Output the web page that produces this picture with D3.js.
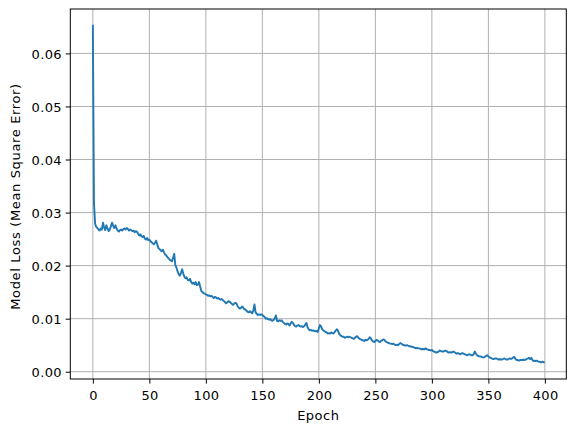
<!DOCTYPE html>
<html>
<head>
<meta charset="utf-8">
<script src="https://cdn.jsdelivr.net/npm/d3@7"></script>
<style>
  html, body { margin: 0; padding: 0; background: #fff; }
  svg { display: block; }
  text { font-family: "DejaVu Sans", sans-serif; }
</style>
</head>
<body>
<svg id="chart" width="576" height="432"></svg>
<script>
const xTicks = [0, 50, 100, 150, 200, 250, 300, 350, 400];
const yTicks = [0.00, 0.01, 0.02, 0.03, 0.04, 0.05, 0.06];
const xLabel = "Epoch";
const yLabel = "Model Loss (Mean Square Error)";

const loss = [
  0.0652, 0.0318, 0.0279, 0.0273, 0.0271, 0.0268, 0.0266, 0.0270, 0.0268, 0.0281,
  0.0272, 0.0267, 0.0276, 0.0270, 0.0265, 0.0268, 0.0274, 0.0281, 0.0275, 0.0271,
  0.0276, 0.0270, 0.0266, 0.0264, 0.0267, 0.0268, 0.0266, 0.0269, 0.0270, 0.0268,
  0.0271, 0.0269, 0.0266, 0.0268, 0.0267, 0.0265, 0.0266, 0.0263, 0.0265, 0.0264,
  0.0260, 0.0257, 0.0259, 0.0255, 0.0254, 0.0256, 0.0251, 0.0249, 0.0252, 0.0248,
  0.0249, 0.0246, 0.0244, 0.0242, 0.0240, 0.0243, 0.0247, 0.0240, 0.0233, 0.0231,
  0.0229, 0.0227, 0.0230, 0.0225, 0.0221, 0.0219, 0.0216, 0.0214, 0.0211, 0.0210,
  0.0208, 0.0215, 0.0222, 0.0201, 0.0196, 0.0189, 0.0184, 0.0181, 0.0186, 0.0193,
  0.0185, 0.0179, 0.0176, 0.0178, 0.0173, 0.0172, 0.0175, 0.0169, 0.0166, 0.0168,
  0.0165, 0.0169, 0.0163, 0.0164, 0.0169, 0.0160, 0.0152, 0.0150, 0.0148, 0.0147,
  0.0146, 0.0145, 0.0143, 0.0144, 0.0142, 0.0143, 0.0141, 0.0139, 0.0141, 0.0140,
  0.0138, 0.0139, 0.0137, 0.0136, 0.0137, 0.0135, 0.0133, 0.0131, 0.0129, 0.0131,
  0.0133, 0.0132, 0.0130, 0.0128, 0.0126, 0.0128, 0.0130, 0.0129, 0.0124, 0.0121,
  0.0119, 0.0120, 0.0123, 0.0121, 0.0118, 0.0117, 0.0115, 0.0113, 0.0112, 0.0114,
  0.0112, 0.0110, 0.0115, 0.0127, 0.0112, 0.0109, 0.0107, 0.0108, 0.0107, 0.0108,
  0.0107, 0.0105, 0.0103, 0.0100, 0.0101, 0.0099, 0.0098, 0.0099, 0.0097, 0.0096,
  0.0098, 0.0100, 0.0106, 0.0096, 0.0095, 0.0097, 0.0096, 0.0097, 0.0094, 0.0092,
  0.0090, 0.0089, 0.0091, 0.0090, 0.0087, 0.0091, 0.0094, 0.0092, 0.0088, 0.0086,
  0.0085, 0.0087, 0.0088, 0.0086, 0.0085, 0.0086, 0.0084, 0.0086, 0.0089, 0.0092,
  0.0084, 0.0080, 0.0078, 0.0079, 0.0077, 0.0078, 0.0077, 0.0076, 0.0077, 0.0075,
  0.0082, 0.0088, 0.0085, 0.0080, 0.0078, 0.0076, 0.0075, 0.0074, 0.0072, 0.0073,
  0.0072, 0.0074, 0.0073, 0.0072, 0.0075, 0.0078, 0.0080, 0.0077, 0.0071, 0.0069,
  0.0067, 0.0066, 0.0066, 0.0064, 0.0065, 0.0066, 0.0065, 0.0066, 0.0065, 0.0064,
  0.0063, 0.0062, 0.0064, 0.0066, 0.0067, 0.0064, 0.0062, 0.0061, 0.0060, 0.0059,
  0.0058, 0.0060, 0.0059, 0.0060, 0.0062, 0.0065, 0.0063, 0.0059, 0.0057, 0.0056,
  0.0058, 0.0060, 0.0059, 0.0057, 0.0056, 0.0058, 0.0059, 0.0061, 0.0060, 0.0057,
  0.0056, 0.0055, 0.0054, 0.0053, 0.0053, 0.0052, 0.0053, 0.0051, 0.0050, 0.0051,
  0.0050, 0.0052, 0.0054, 0.0053, 0.0051, 0.0050, 0.0050, 0.0049, 0.0050, 0.0049,
  0.0048, 0.0048, 0.0047, 0.0047, 0.0046, 0.0045, 0.0044, 0.0045, 0.0044, 0.0044,
  0.0043, 0.0042, 0.0043, 0.0042, 0.0044, 0.0043, 0.0042, 0.0041, 0.0041, 0.0040,
  0.0041, 0.0039, 0.0038, 0.0037, 0.0036, 0.0037, 0.0038, 0.0040, 0.0039, 0.0038,
  0.0038, 0.0039, 0.0040, 0.0039, 0.0037, 0.0036, 0.0037, 0.0036, 0.0037, 0.0038,
  0.0037, 0.0035, 0.0034, 0.0035, 0.0034, 0.0033, 0.0034, 0.0035, 0.0034, 0.0033,
  0.0032, 0.0031, 0.0032, 0.0033, 0.0032, 0.0031, 0.0031, 0.0033, 0.0038, 0.0034,
  0.0031, 0.0030, 0.0029, 0.0029, 0.0028, 0.0027, 0.0027, 0.0028, 0.0030, 0.0031,
  0.0029, 0.0027, 0.0026, 0.0025, 0.0024, 0.0024, 0.0025, 0.0025, 0.0024, 0.0023,
  0.0024, 0.0023, 0.0023, 0.0024, 0.0025, 0.0024, 0.0023, 0.0023, 0.0024, 0.0025,
  0.0024, 0.0025, 0.0027, 0.0028, 0.0024, 0.0022, 0.0022, 0.0021, 0.0022, 0.0022,
  0.0022, 0.0023, 0.0022, 0.0023, 0.0024, 0.0025, 0.0026, 0.0024, 0.0026, 0.0022,
  0.0020, 0.0021, 0.0020, 0.0021, 0.0019, 0.0019, 0.0018, 0.0018, 0.0019, 0.0018
];
const epochs = loss.map((_, i) => i);

const svg = d3.select("#chart");
const L = 70.3, R = 566.3, T = 9, B = 379;
const W = R - L, H = B - T;

svg.append("rect").attr("x", 0).attr("y", 0).attr("width", 576).attr("height", 432).attr("fill", "#fff");

// matplotlib-like 5% margins
const xExt = d3.extent(epochs), yExt = d3.extent(loss);
const xPad = (xExt[1] - xExt[0]) * 0.05, yPad = (yExt[1] - yExt[0]) * 0.05;
const x = d3.scaleLinear().domain([xExt[0] - xPad, xExt[1] + xPad]).range([L, R]);
const y = d3.scaleLinear().domain([yExt[0] - yPad, yExt[1] + yPad]).range([B, T]);

const g = svg.append("g");

// grid
g.append("g").selectAll("line").data(xTicks).join("line")
  .attr("x1", d => x(d)).attr("x2", d => x(d)).attr("y1", T).attr("y2", B)
  .attr("stroke", "#b0b0b0").attr("stroke-width", 1);
g.append("g").selectAll("line").data(yTicks).join("line")
  .attr("x1", L).attr("x2", R).attr("y1", d => y(d)).attr("y2", d => y(d))
  .attr("stroke", "#b0b0b0").attr("stroke-width", 1);

// line
const line = d3.line().x((d, i) => x(epochs[i])).y(d => y(d));
g.append("path").datum(loss)
  .attr("d", line).attr("fill", "none")
  .attr("stroke", "#1f77b4").attr("stroke-width", 1.9)
  .attr("stroke-linejoin", "round").attr("stroke-linecap", "square");

// axes
const xAxis = d3.axisBottom(x).tickValues(xTicks).tickSize(4.6).tickPadding(4.4).tickFormat(d3.format("d"));
const yAxis = d3.axisLeft(y).tickValues(yTicks).tickSize(4.6).tickPadding(3.8).tickFormat(d3.format(".2f"));

const gx = svg.append("g").attr("transform", `translate(0,${B})`).call(xAxis);
const gy = svg.append("g").attr("transform", `translate(${L},0)`).call(yAxis);
[gx, gy].forEach(a => {
  a.select(".domain").remove();
  a.selectAll(".tick line").attr("stroke", "#000").attr("stroke-width", 1);
  a.selectAll(".tick text").attr("fill", "#000").style("font-size", "13px")
    .style("letter-spacing", "0.35px")
    .style("font-family", "'DejaVu Sans', sans-serif");
});
gx.selectAll(".tick text").attr("y", 21).attr("dy", "0").attr("dx", "0.2");
gy.selectAll(".tick text").attr("dy", "0.38em");

// spines
svg.append("rect").attr("x", L).attr("y", T).attr("width", W).attr("height", H)
  .attr("fill", "none").attr("stroke", "#000").attr("stroke-width", 1);

// labels
svg.append("text").attr("x", (L + R) / 2).attr("y", 420)
  .attr("text-anchor", "middle").style("font-size", "13px").style("letter-spacing", "0.5px")
  .attr("fill", "#000").text(xLabel);
svg.append("text").attr("transform", `translate(20,${(T + B) / 2 + 2.5}) rotate(-90)`)
  .attr("text-anchor", "middle").style("font-size", "13px").style("letter-spacing", "0.65px")
  .attr("fill", "#000").text(yLabel);
</script>
</body>
</html>
